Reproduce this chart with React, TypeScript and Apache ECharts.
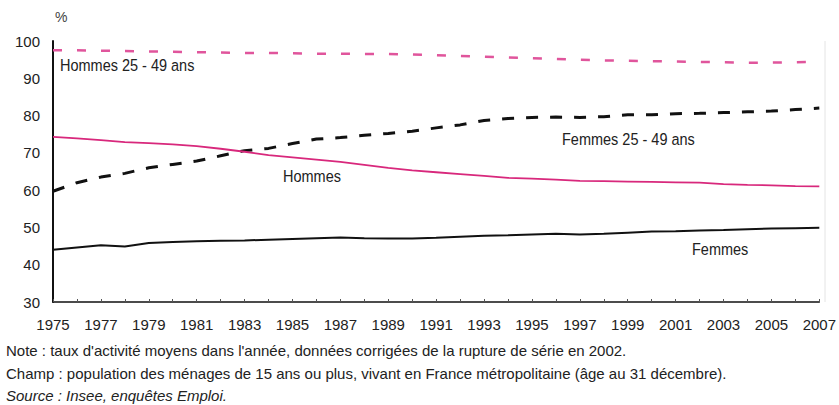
import React, { useEffect, useRef } from "react";
import * as echarts from "echarts";

const years: string[] = [];
for (let y = 1975; y <= 2007; y++) years.push(String(y));

const hommes2549 = [97.5, 97.5, 97.4, 97.3, 97.2, 97.1, 97.0, 96.9, 96.8, 96.8, 96.7, 96.6, 96.6, 96.5, 96.5, 96.4, 96.2, 96.0, 95.8, 95.6, 95.4, 95.2, 95.0, 94.8, 94.7, 94.6, 94.5, 94.4, 94.3, 94.2, 94.2, 94.3, 94.4];
const femmes2549 = [59.7, 62.0, 63.5, 64.5, 66.0, 66.9, 67.8, 69.2, 70.6, 71.2, 72.5, 73.7, 74.1, 74.7, 75.2, 75.8, 76.7, 77.5, 78.7, 79.2, 79.5, 79.6, 79.5, 79.7, 80.2, 80.2, 80.5, 80.6, 80.8, 81.0, 81.2, 81.6, 82.0];
const hommes = [74.3, 73.9, 73.4, 72.9, 72.6, 72.3, 71.8, 71.1, 70.3, 69.4, 68.8, 68.2, 67.6, 66.8, 66.0, 65.3, 64.8, 64.3, 63.8, 63.3, 63.1, 62.8, 62.5, 62.4, 62.3, 62.2, 62.1, 62.0, 61.6, 61.4, 61.3, 61.1, 61.0];
const femmes = [44.0, 44.6, 45.2, 44.9, 45.8, 46.1, 46.3, 46.4, 46.5, 46.7, 46.9, 47.1, 47.3, 47.1, 47.0, 47.0, 47.2, 47.5, 47.8, 47.9, 48.1, 48.3, 48.1, 48.3, 48.6, 48.9, 49.0, 49.2, 49.3, 49.5, 49.7, 49.8, 49.9];

const yMin = 30;
const yMax = 100;
const yStep = 10;

const noteLines = [
  "Note : taux d'activité moyens dans l'année, données corrigées de la rupture de série en 2002.",
  "Champ : population des ménages de 15 ans ou plus, vivant en France métropolitaine (âge au 31 décembre).",
  "Source : Insee, enquêtes Emploi.",
];

const SANS = "'Liberation Sans', Arial, sans-serif";

export default function App() {
  const ref = useRef<HTMLDivElement>(null);
  useEffect(() => {
    if (!ref.current) return;
    const chart = echarts.init(ref.current, null, { renderer: "svg" });
    const pink = "#d8287c";
    const label = (text: string, x: number, y: number) => ({
      type: "text",
      x,
      y,
      scaleY: 1.12,
      style: { text, font: `14.5px ${SANS}`, fill: "#222", verticalAlign: "middle" },
    });
    chart.setOption({
      animation: false,
      backgroundColor: "#ffffff",
      grid: { left: 53, right: 15, top: 41, bottom: 103 },
      xAxis: {
        type: "category",
        data: years,
        boundaryGap: false,
        axisLine: { lineStyle: { color: "#111", width: 1.5 } },
        axisTick: { show: true, inside: true, length: 3, interval: 0, lineStyle: { color: "#555" } },
        axisLabel: { interval: 1, color: "#222", fontFamily: SANS, fontSize: 15, margin: 15 },
        splitLine: { show: false },
      },
      yAxis: {
        type: "value",
        min: yMin,
        max: yMax,
        interval: yStep,
        axisLine: { show: true, lineStyle: { color: "#111", width: 2 } },
        axisTick: { show: false },
        axisLabel: { color: "#222", fontFamily: SANS, fontSize: 15, margin: 13 },
        splitLine: { show: false },
      },
      series: [
        {
          name: "Hommes 25 - 49 ans",
          type: "line",
          data: hommes2549,
          symbol: "none",
          lineStyle: { color: "#e0559c", width: 2.5, type: [9, 15] },
        },
        {
          name: "Femmes 25 - 49 ans",
          type: "line",
          data: femmes2549,
          symbol: "none",
          lineStyle: { color: "#111", width: 3, type: [12, 12] },
        },
        {
          name: "Hommes",
          type: "line",
          data: hommes,
          symbol: "none",
          lineStyle: { color: pink, width: 1.8 },
        },
        {
          name: "Femmes",
          type: "line",
          data: femmes,
          symbol: "none",
          lineStyle: { color: "#111", width: 2 },
        },
      ],
      graphic: [
        { type: "line", shape: { x1: 825, y1: 41, x2: 825, y2: 302 }, style: { stroke: "#e4e4e4", lineWidth: 1 } },
        { type: "text", x: 55, y: 17, style: { text: "%", font: `14px ${SANS}`, fill: "#444", verticalAlign: "middle" } },
        label("Hommes 25 - 49 ans", 60, 65),
        label("Femmes 25 - 49 ans", 562, 139),
        label("Hommes", 283, 176),
        label("Femmes", 692, 249),
        { type: "text", x: 6, y: 350, style: { text: noteLines[0], font: `15px ${SANS}`, fill: "#222", verticalAlign: "middle" } },
        { type: "text", x: 6, y: 373, style: { text: noteLines[1], font: `15px ${SANS}`, fill: "#222", verticalAlign: "middle" } },
        { type: "text", x: 6, y: 395, style: { text: noteLines[2], font: `italic 15px ${SANS}`, fill: "#222", verticalAlign: "middle" } },
      ],
    });
    return () => chart.dispose();
  }, []);
  return <div ref={ref} style={{ position: "absolute", left: 0, top: 0, width: 839, height: 405 }} />;
}
